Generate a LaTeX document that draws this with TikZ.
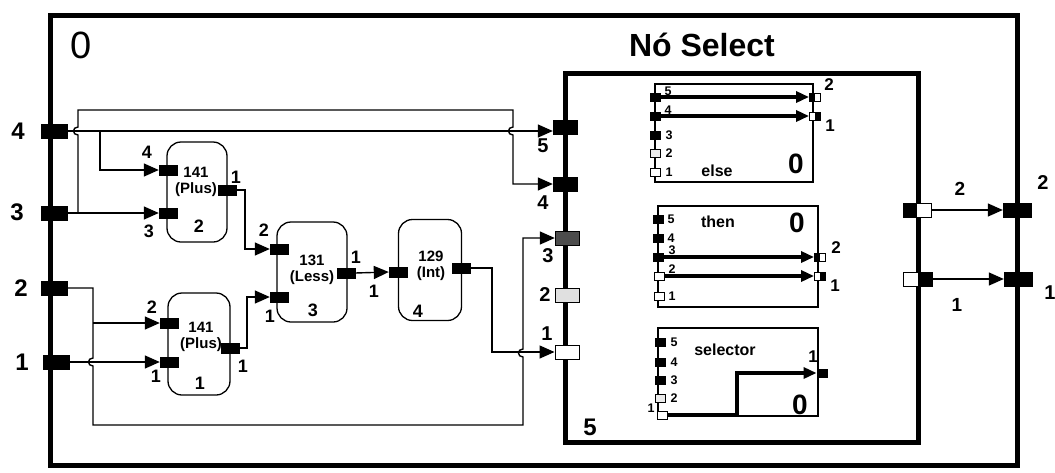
\documentclass[tikz,border=0pt]{standalone}
\usepackage{fontspec}
\setmainfont{Liberation Sans}
\usetikzlibrary{arrows.meta}
\begin{document}
\begin{tikzpicture}[x=1pt,y=-1pt,
  fs/.style={font=\fontsize{#1}{#1}\selectfont\bfseries},
  frame/.style={line width=5pt, line join=miter},
  wire/.style={line width=1.4pt},
  arr/.style={wire, -{Triangle[length=15pt,width=13pt]}},
  tarr/.style={line width=3.2pt, -{Triangle[length=13pt,width=11pt]}},
  bport/.style={rectangle, draw=black, fill=black, inner sep=0pt, minimum width=26pt, minimum height=14pt},
  port/.style={rectangle, draw=black, fill=black, inner sep=0pt, minimum width=18pt, minimum height=10pt},
  sport/.style={rectangle, draw=black, line width=0.9pt, fill=black, inner sep=0pt, minimum width=10pt, minimum height=8pt},
  wport/.style={sport, fill=white},
  blk/.style={draw, line width=1.3pt, rounded corners=14pt, inner sep=0pt},
  ibox/.style={draw, line width=1.4pt},
  plab/.style={fs=18},
  slab/.style={fs=12.5},
  btxt/.style={align=center, inner sep=0pt, font=\fontsize{15}{16}\selectfont\bfseries}
]
\useasboundingbox (0,0) rectangle (1055,472);

% outer frame
\node[draw, frame, minimum width=967pt, minimum height=450pt, inner sep=0pt] (outer) at (533.5,240) {};
\node[font=\fontsize{38}{38}\selectfont] (zero) at (81,45) {0};
\node[fs=32] (title) at (702,45) {Nó Select};

% left ports
\node[bport] (L4) at (54,131) {};
\node[bport] (L3) at (54,213) {};
\node[bport] (L2) at (54,288) {};
\node[bport] (L1) at (56,362) {};
\node[fs=24] (l4) at (18,131) {4};
\node[fs=24] (l3) at (17,212) {3};
\node[fs=24] (l2) at (21,288) {2};
\node[fs=24] (l1) at (22,362) {1};

% blocks
\node[blk, minimum width=60pt, minimum height=100pt] (P2) at (197,192) {};
\node[blk, minimum width=62pt, minimum height=102pt] (P1) at (199,344) {};
\node[blk, minimum width=70pt, minimum height=100pt] (LS) at (312,272) {};
\node[blk, minimum width=63pt, minimum height=101pt] (IN) at (430,270) {};

\node[btxt] (P2t) at (196,182) {141\\(Plus)};
\node[fs=18] (P2n) at (199,226) {2};
\node[btxt] (P1t) at (201,337) {141\\(Plus)};
\node[fs=18] (P1n) at (200,383) {1};
\node[btxt] (LSt) at (312,270) {131\\(Less)};
\node[fs=18] (LSn) at (313,310) {3};
\node[btxt] (INt) at (431,266) {129\\(Int)};
\node[fs=18] (INn) at (418,311) {4};

% block ports
\node[port] (P2in4) at (168,170) {};
\node[port] (P2in3) at (168,213) {};
\node[port] (P2out) at (227,190) {};
\node[port] (P1in2) at (169,323) {};
\node[port] (P1in1) at (169,362) {};
\node[port] (P1out) at (230,348) {};
\node[port] (LSin2) at (279,249) {};
\node[port] (LSin1) at (279,297) {};
\node[port] (LSout) at (346,273) {};
\node[port] (INin) at (398,272) {};
\node[port] (INout) at (461,268) {};

\node[plab] (a1) at (147,152) {4};
\node[plab] (a2) at (149,231) {3};
\node[plab] (a3) at (236,177) {1};
\node[plab] (a4) at (152,307) {2};
\node[plab] (a5) at (156,376) {1};
\node[plab] (a6) at (243,366) {1};
\node[plab] (a7) at (264,230) {2};
\node[plab] (a8) at (270,316) {1};
\node[plab] (a9) at (356,257) {1};
\node[plab] (a10) at (374,291) {1};

% select frame
\node[draw, frame, minimum width=353pt, minimum height=369pt, inner sep=0pt] (SEL) at (741.5,257.5) {};
\node[fs=24] (sel5) at (590,427) {5};

% select left ports
\node[bport, minimum width=24pt] (S5) at (565,127) {};
\node[bport, minimum width=24pt] (S4) at (565,184) {};
\node[bport, minimum width=24pt, fill=black!70] (S3) at (567,238) {};
\node[bport, minimum width=24pt, fill=black!12, line width=1pt] (S2) at (567,295) {};
\node[bport, minimum width=24pt, fill=white, line width=1pt] (S1) at (567,352) {};
\node[fs=20] (s5l) at (543,146) {5};
\node[fs=20] (s4l) at (543,203) {4};
\node[fs=20] (s3l) at (548,256) {3};
\node[fs=20] (s2l) at (545,295) {2};
\node[fs=20] (s1l) at (547,334) {1};

% select right ports
\node[bport, minimum width=28pt, fill=white, line width=1pt] (SO2) at (917,210) {};
\fill (SO2.north west) rectangle (SO2.south);
\node[bport, minimum width=29pt, fill=white, line width=1pt] (SO1) at (918,279) {};
\fill (SO1.north) rectangle (SO1.south east);
\node[bport, minimum width=28pt] (R2) at (1017,210) {};
\node[bport, minimum width=28pt] (R1) at (1018,279) {};
\node[fs=19] (o2l) at (960,189) {2};
\node[fs=19] (o1l) at (957,305) {1};
\node[fs=20] (r2l) at (1043,183) {2};
\node[fs=20] (r1l) at (1050,293) {1};

% wires
\draw[arr] (L4.east) -- (S5.west |- L4.east);
\draw[arr] (100,131) |- (P2in4.west);
\draw[arr] (L3.east) -- (P2in3.west);
\draw[arr] (78,213) -- (78,135) .. controls (72,135) and (72,127) .. (78,127) -- (78,110) -- (513,110) -- (513,127) .. controls (507,127) and (507,135) .. (513,135) |- (S4.west);
\draw[arr] (P2out.east) -- (245,190) |- (LSin2.west);
\draw[arr] (P1out.east) -- (247,348) |- (LSin1.west);
\draw[arr] (L2.east) -- (93,288) -- (93,358) .. controls (87,358) and (87,366) .. (93,366) -- (93,425) -- (523,425) -- (523,357) .. controls (517,357) and (517,349) .. (523,349) |- (S3.west);
\draw[arr] (93,323) -- (P1in2.west);
\draw[arr] (L1.east) -- (P1in1.west);
\draw[arr] (LSout.east) -- (INin.west);
\draw[arr] (INout.east) -- (492,268) |- (S1.west);
\draw[arr] (SO2.east) -- (R2.west);
\draw[arr] (SO1.east) -- (R1.west);

% else box
\node[ibox, minimum width=158pt, minimum height=98pt, inner sep=0pt] (EB) at (734,133) {};
\node[sport] (e5) at (655,97) {};
\node[sport] (e4) at (655,116) {};
\node[sport] (e3) at (655,135) {};
\node[wport, fill=black!8] (e2) at (655,153) {};
\node[wport] (e1) at (655,172) {};
\node[slab] at (668,91) {5};
\node[slab] at (668,110) {4};
\node[slab] at (669,135) {3};
\node[slab] at (669,153) {2};
\node[slab] at (669,172) {1};
\node[wport, minimum width=11pt] (ER2) at (815,97) {};
\fill (ER2.north west) rectangle (ER2.south);
\node[wport, minimum width=11pt] (ER1) at (815,116) {};
\fill (ER1.north) rectangle (ER1.south east);
\node[fs=17] at (829,85) {2};
\node[fs=17] at (830,126) {1};
\draw[tarr] (e5.east) -- (ER2.west);
\draw[tarr] (e4.east) -- (ER1.west);
\node[font=\fontsize{16}{16}\selectfont\bfseries] at (717,171) {else};
\node[fs=28] at (796,164) {0};

% then box
\node[ibox, minimum width=160pt, minimum height=101pt, inner sep=0pt] (TB) at (738,256.5) {};
\node[sport] (t5) at (658,219) {};
\node[sport] (t4) at (658,238) {};
\node[sport] (t3) at (658,257) {};
\node[wport] (t2) at (659,276) {};
\node[wport] (t1) at (659,296) {};
\node[slab] at (671,219) {5};
\node[slab] at (671,238) {4};
\node[slab] at (672,250) {3};
\node[slab] at (672,269) {2};
\node[slab] at (672,296) {1};
\node[wport, minimum width=11pt] (TR2) at (820,257) {};
\fill (TR2.north west) rectangle (TR2.south);
\node[wport, minimum width=11pt] (TR1) at (820,276) {};
\fill (TR1.north) rectangle (TR1.south east);
\node[fs=17] at (836,248) {2};
\node[fs=17] at (835,286) {1};
\draw[tarr] (t3.east) -- (TR2.west);
\draw[tarr] (t2.east) -- (TR1.west);
\node[font=\fontsize{16}{16}\selectfont\bfseries] at (718,222) {then};
\node[fs=28] at (797,223) {0};

% selector box
\node[ibox, minimum width=160pt, minimum height=88pt, inner sep=0pt] (SB) at (738,372) {};
\node[sport] (s5) at (660,342) {};
\node[sport] (s4) at (660,362) {};
\node[sport] (s3) at (660,380) {};
\node[wport, fill=black!8] (s2) at (660,398) {};
\node[wport] (s1) at (662,415) {};
\node[slab] at (674,342) {5};
\node[slab] at (674,362) {4};
\node[slab] at (674,380) {3};
\node[slab] at (674,398) {2};
\node[slab] at (651,408) {1};
\node[sport, minimum width=10pt] (SR1) at (822,373) {};
\node[fs=17] at (813,357) {1};
\draw[tarr] (s1.east) -- (737,415) |- (SR1.west);
\node[font=\fontsize{16}{16}\selectfont\bfseries] at (725,350) {selector};
\node[fs=28] at (800,405) {0};
\end{tikzpicture}
\end{document}
